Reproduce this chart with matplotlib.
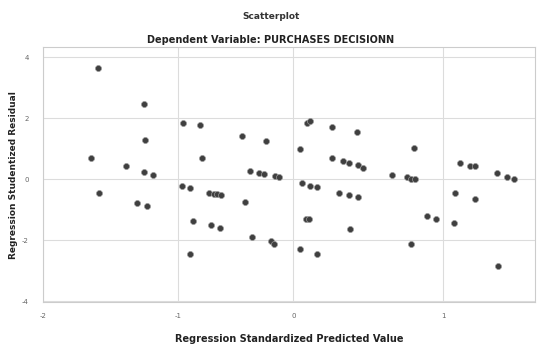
import numpy as np
import matplotlib.pyplot as plt

# standardized predicted value (x) and studentized residual (y)
pred = [-1.589, -1.251, -0.959, -0.809, -1.244, -1.645, -1.384, -1.251, -1.185,
        -1.586, -1.305, -1.234, -0.963, -0.896, -0.872, -0.896,
        -0.794, -0.446, -0.237, -0.380, -0.296, -0.258, -0.162, -0.122,
        -0.736, -0.693, -0.663, -0.629, -0.420, -0.716, -0.641, -0.357,
        -0.194, -0.171,
        0.091, 0.113, 0.260, 0.427, 0.042, 0.258, 0.329, 0.373, 0.431, 0.465,
        0.060, 0.109, 0.158, 0.305, 0.371, 0.431, 0.087, 0.105, 0.380,
        0.047, 0.158,
        0.807, 0.658, 0.758, 0.785, 0.811, 0.891, 0.951, 0.785,
        1.080, 1.073, 1.113, 1.175, 1.213, 1.209, 1.358, 1.425, 1.473, 1.363]
resid = [3.63, 2.46, 1.83, 1.78, 1.30, 0.69, 0.42, 0.25, 0.15,
         -0.47, -0.79, -0.87, -0.22, -0.28, -1.36, -2.44,
         0.71, 1.42, 1.25, 0.27, 0.20, 0.16, 0.10, 0.07,
         -0.44, -0.48, -0.50, -0.52, -0.75, -1.50, -1.60, -1.89,
         -2.04, -2.13,
         1.85, 1.92, 1.70, 1.55, 0.98, 0.71, 0.58, 0.53, 0.45, 0.38,
         -0.14, -0.21, -0.25, -0.45, -0.51, -0.60, -1.30, -1.32, -1.64,
         -2.30, -2.46,
         1.01, 0.15, 0.08, 0.02, -0.01, -1.22, -1.31, -2.13,
         -0.44, -1.44, 0.53, 0.43, 0.43, -0.65, 0.21, 0.07, 0.00, -2.85]

xticks = [-2, -1, 0, 1]
yticks = [-4, -2, 0, 2, 4]

# the source picture has unevenly spaced x ticks, so map them piecewise
tick_pos = [-3, -2, -1, 0, 1, 2]
tick_pix = [-92.6, 42.7, 178, 293, 443, 593]

def fwd(v):
    return np.interp(v, tick_pos, tick_pix)

def inv(p):
    return np.interp(p, tick_pix, tick_pos)

fig = plt.figure(figsize=(5.42, 3.44), dpi=100)
ax = fig.add_axes([0.079, 0.122, 0.908, 0.741])
ax.set_xscale('function', functions=(fwd, inv))

ax.scatter(pred, resid, s=19, color='#3f3f3f', edgecolors='#9a9a9a',
           linewidths=0.5, zorder=3)

ax.set_xlim(-2, 1.61)
ax.set_ylim(-4.03, 4.33)
ax.set_xticks(xticks)
ax.set_xticklabels([str(t) for t in xticks])
ax.set_yticks(yticks)
ax.set_yticklabels([str(t) for t in yticks])
ax.grid(True, color='#dcdcdc', linewidth=0.8)
ax.set_axisbelow(True)
for s in ax.spines.values():
    s.set_color('#cccccc')
    s.set_linewidth(0.8)
ax.tick_params(labelsize=5, colors='#666666', length=0)
ax.tick_params(axis='x', pad=8)
ax.tick_params(axis='y', pad=10)

fig.text(0.5, 0.953, 'Scatterplot', ha='center', va='center',
         fontsize=6.5, fontweight='bold', color='#333333')
fig.text(0.5, 0.884, 'Dependent Variable: PURCHASES DECISIONN', ha='center',
         va='center', fontsize=7, fontweight='bold', color='#222222')
ax.set_xlabel('Regression Standardized Predicted Value', fontsize=7,
              fontweight='bold', color='#222222', labelpad=11)
ax.set_ylabel('Regression Studentized Residual', fontsize=6.5,
              fontweight='bold', color='#222222', labelpad=3)

plt.savefig('out.png', dpi=100)
